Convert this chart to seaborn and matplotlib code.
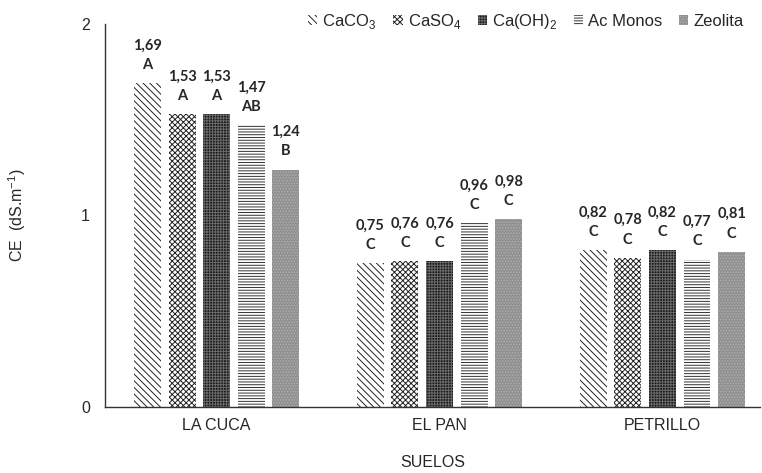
import matplotlib
matplotlib.use("Agg")
import matplotlib.pyplot as plt
import seaborn as sns
import pandas as pd
from matplotlib.patches import Patch

suelos = ["LA CUCA", "EL PAN", "PETRILLO"]
tratamientos = [r"CaCO$_3$", r"CaSO$_4$", r"Ca(OH)$_2$", "Ac Monos", "Zeolita"]
ce_cuca = [1.69, 1.53, 1.53, 1.47, 1.24]
ce_pan = [0.75, 0.76, 0.76, 0.96, 0.98]
ce_petrillo = [0.82, 0.78, 0.82, 0.77, 0.81]
letras_cuca = ["A", "A", "A", "AB", "B"]
letras_pan = ["C", "C", "C", "C", "C"]
letras_petrillo = ["C", "C", "C", "C", "C"]

valores = [ce_cuca, ce_pan, ce_petrillo]
letras = [letras_cuca, letras_pan, letras_petrillo]

df = pd.DataFrame({
    "suelo": [s for s in suelos for _ in tratamientos],
    "trat": tratamientos * len(suelos),
    "ce": [v for fila in valores for v in fila],
})

sns.set_style("white")
plt.rcParams["font.family"] = ["Liberation Sans", "DejaVu Sans"]
plt.rcParams["mathtext.fontset"] = "custom"
plt.rcParams["mathtext.rm"] = "Liberation Sans"
plt.rcParams["hatch.linewidth"] = 0.7

# estilos de relleno: (color, hatch, color del hatch)
estilos = [
    ("white", "\\\\\\\\\\", "#222222"),
    ("white", "xxxxxx", "#222222"),
    ("#1a1a1a", "++++++", "#6a6a6a"),
    ("white", "------", "#333333"),
    ("#909090", "......", "#b0b0b0"),
]

fig = plt.figure(figsize=(7.62, 4.73), dpi=100)
ax = fig.add_axes([0.138, 0.1395, 0.86, 0.8098])

sns.barplot(data=df, x="suelo", y="ce", hue="trat", order=suelos,
            hue_order=tratamientos, width=0.776, gap=0.22, ax=ax,
            legend=False)

for cont, (fc, h, hc) in zip(ax.containers, estilos):
    for bar in cont:
        bar.set_facecolor(fc)
        bar.set_hatch(h)
        bar.set_edgecolor(hc)
        bar.set_linewidth(0)

for i, cont in enumerate(ax.containers):
    for j, bar in enumerate(cont):
        val = valores[j][i]
        txt = f"{val:.2f}".replace(".", ",") + "\n" + letras[j][i]
        ax.annotate(txt, (bar.get_x() + bar.get_width() / 2, bar.get_height()),
                    xytext=(0, 8), textcoords="offset points",
                    ha="center", va="bottom", fontsize=10.5, fontweight="bold",
                    family=["Lato", "DejaVu Sans"], linespacing=1.5)

ax.set_ylim(0, 2)
ax.set_xlim(-0.5, 2.44)
ax.set_yticks([0, 1, 2])
ax.set_yticklabels(["0", "1", "2"])
ax.tick_params(axis="both", labelsize=11.5, length=0)
ax.tick_params(axis="x", pad=8)
ax.tick_params(axis="y", pad=11)
ax.set_xlabel("SUELOS", fontsize=11.5, labelpad=16)
ax.set_ylabel(r"CE  (dS.m$^{-1}$)", fontsize=11.5, labelpad=38)
sns.despine(ax=ax, top=True, right=True)
for s in ["left", "bottom"]:
    ax.spines[s].set_color("#333333")
    ax.spines[s].set_linewidth(1.0)

handles = [Patch(facecolor=fc, hatch=h, edgecolor=hc, linewidth=0)
           for fc, h, hc in estilos]
ax.legend(handles, tratamientos, loc="upper right", bbox_to_anchor=(0.997, 1.07),
          ncol=5, frameon=False, fontsize=12, handlelength=0.55,
          handleheight=0.55, handletextpad=0.3, columnspacing=1.0)

fig.savefig("out.png", dpi=100)
